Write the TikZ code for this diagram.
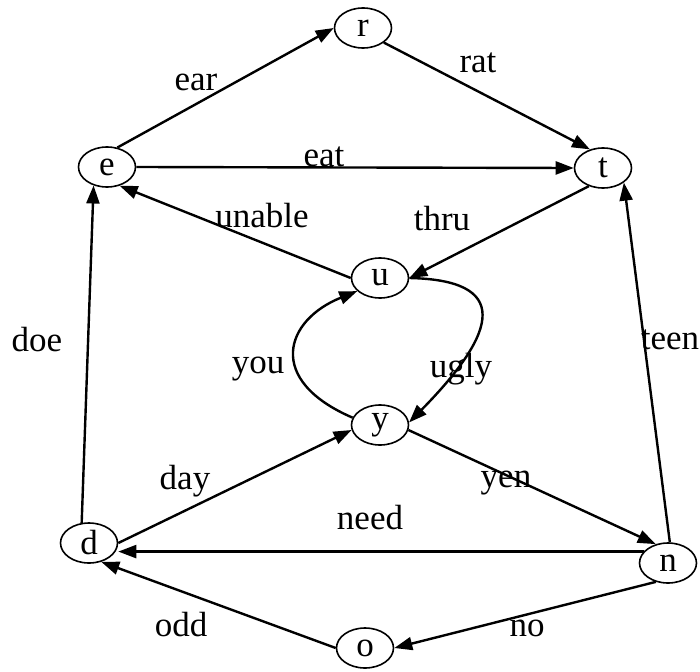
\documentclass[tikz,border=0pt]{standalone}
\usepackage{fontspec}
\setmainfont{Liberation Serif}
\usetikzlibrary{shapes.geometric,arrows.meta}
\begin{document}
\begin{tikzpicture}[x=1pt,y=-1pt,
  vtx/.style={ellipse,draw,line width=1.6pt,minimum width=57pt,minimum height=40pt,inner sep=0pt,font=\fontsize{35}{42}\selectfont},
  lbl/.style={inner sep=0pt,font=\fontsize{35}{42}\selectfont},
  conn/.style={line width=2.4pt,-{Triangle[length=18pt,width=13pt]}}]
\useasboundingbox (0,0) rectangle (700,671);
% vertices
\node[vtx] (r) at (363,28) {r};
\node[vtx] (e) at (107,167) {e};
\node[vtx] (t) at (603,168) {t};
\node[vtx] (u) at (380,278) {u};
\node[vtx] (y) at (380,425) {y};
\node[vtx] (d) at (89,543) {d};
\node[vtx] (n) at (668,563) {n};
\node[vtx] (o) at (365,648) {o};
% edges
\draw[conn] (e.62) -- (r.west);
\draw[conn] (r.-35) -- (t.125);
\draw[conn] (e.east) -- (t.west);
\draw[conn] (t.232) -- (u.east);
\draw[conn] (u.west) -- (e.-56);
\draw[conn] (u.east) .. controls (510,280) and (500,330) .. (y.5);
\draw[conn] (y.165) .. controls (265,380) and (285,320) .. (u.210);
\draw[conn] (d.110) -- (e.234);
\draw[conn] (n.85) -- (t.-35);
\draw[conn] (d.east) -- (y.190);
\draw[conn] (y.-10) -- (n.123);
\draw[conn] (n.155) -- (n.155 -| d.east);
\draw[conn] (o.west) -- (d.-57);
\draw[conn] (n.237) -- (o.east);
% labels
\node[lbl] (lear) at (196,82) {ear};
\node[lbl] (lrat) at (478,63) {rat};
\node[lbl] (leat) at (324,157) {eat};
\node[lbl] (lunable) at (262,216) {unable};
\node[lbl] (lthru) at (442,219) {thru};
\node[lbl] (lyou) at (258,369) {you};
\node[lbl] (lugly) at (461,369) {ugly};
\node[lbl] (ldoe) at (37,340) {doe};
\node[lbl] (lteen) at (670,340) {teen};
\node[lbl] (lday) at (185,481) {day};
\node[lbl] (lyen) at (506,483) {yen};
\node[lbl] (lneed) at (370,518) {need};
\node[lbl] (lodd) at (181,625) {odd};
\node[lbl] (lno) at (527,628) {no};
\end{tikzpicture}
\end{document}
